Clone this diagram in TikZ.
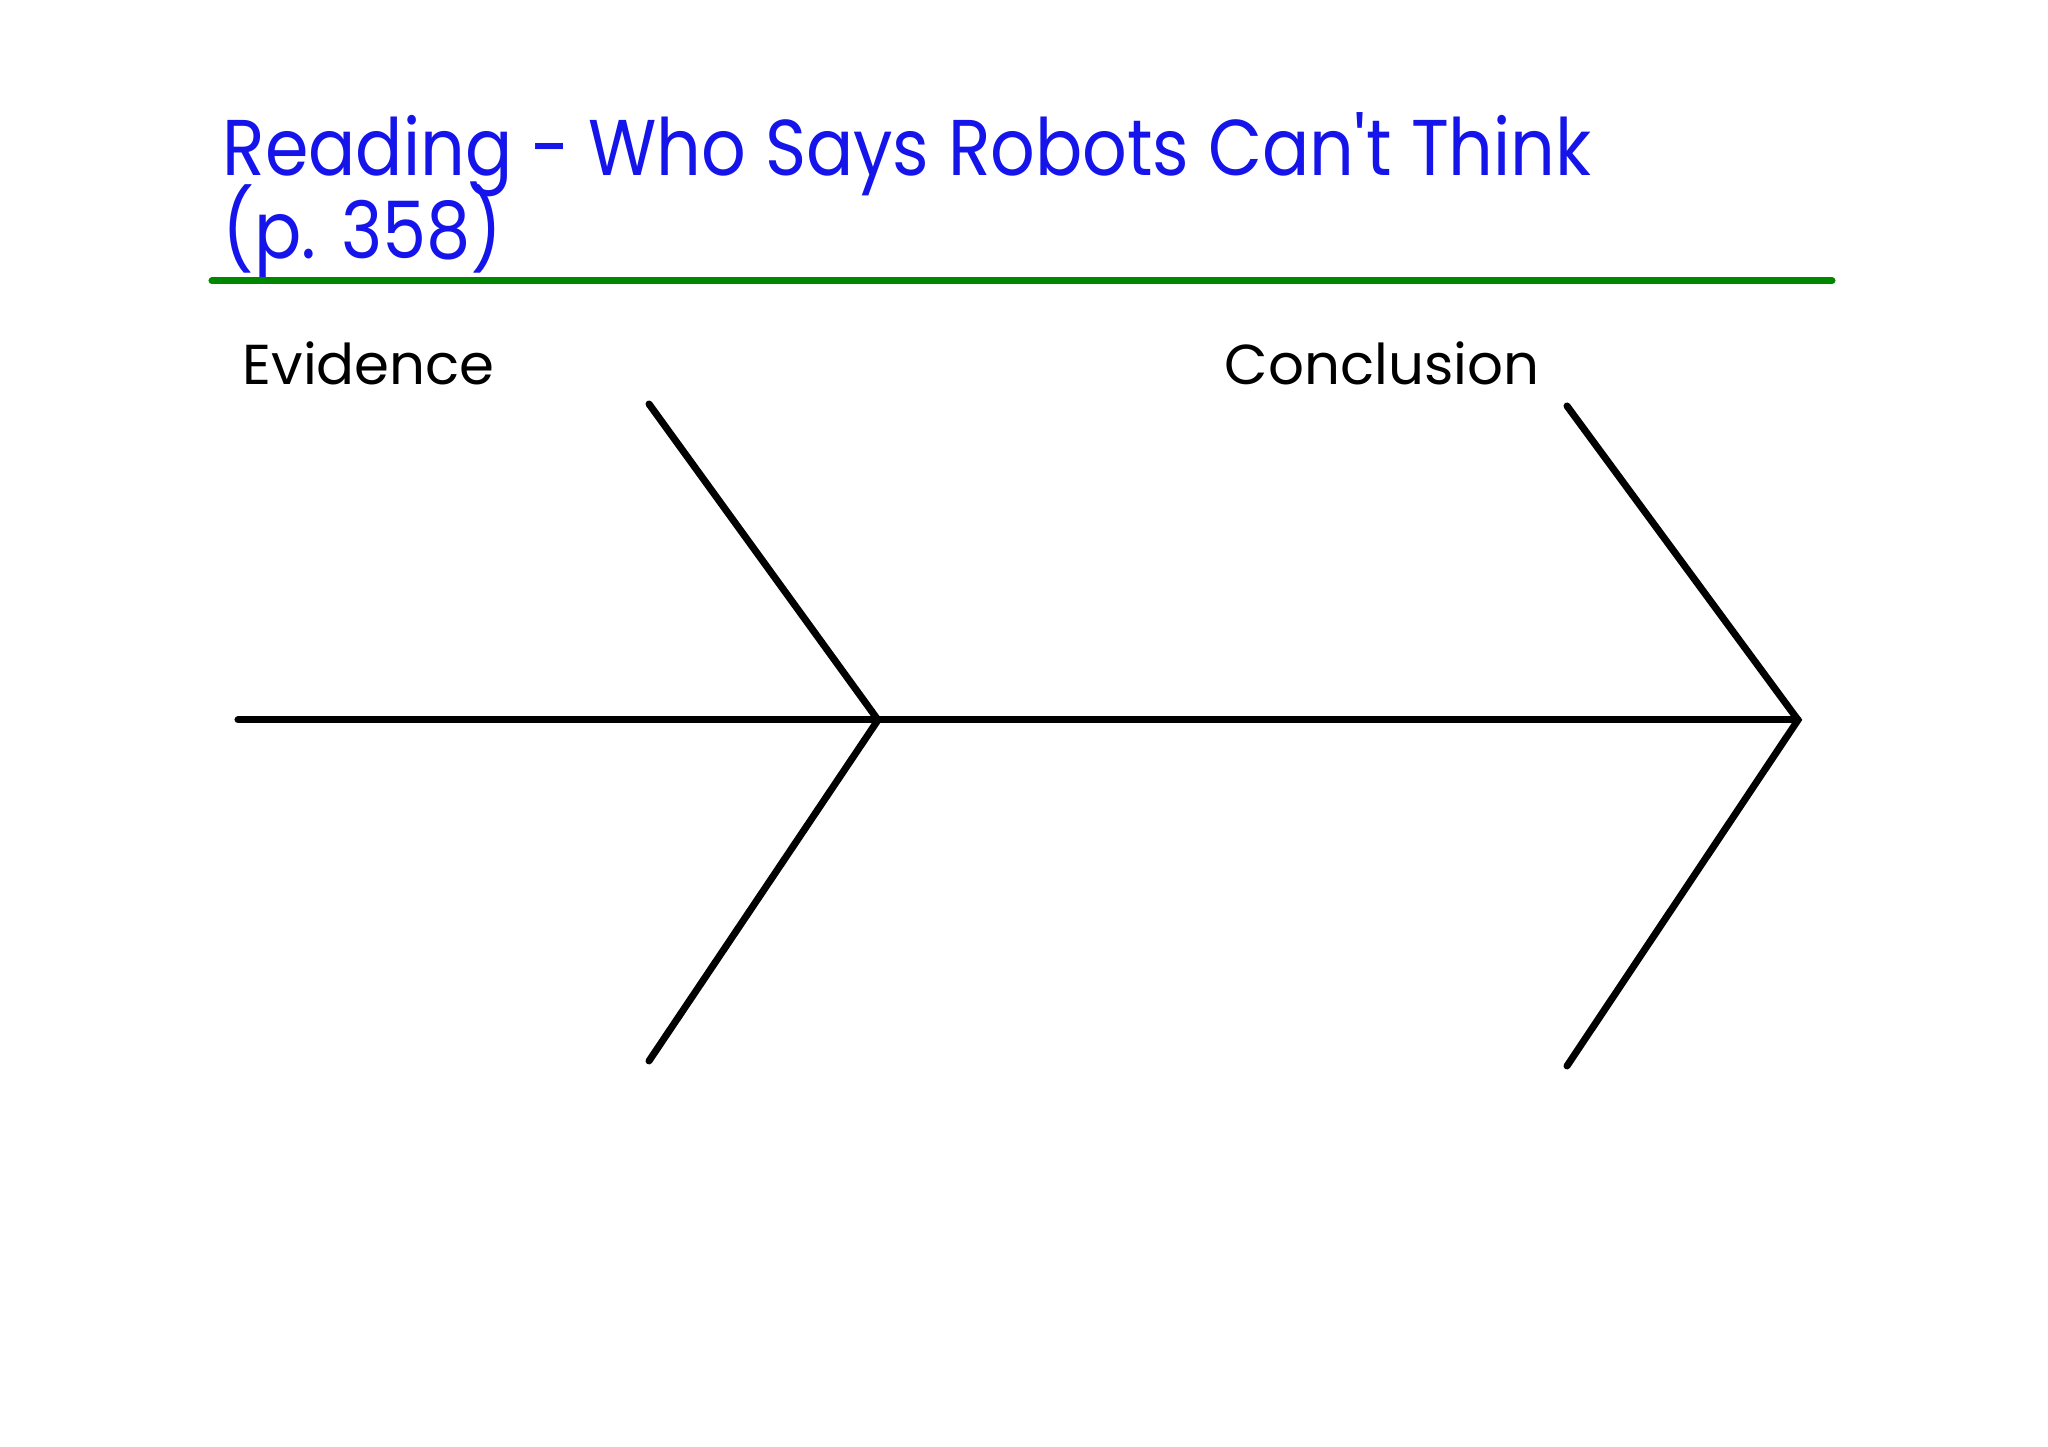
\documentclass[tikz,border=0pt]{standalone}
\usepackage{fontspec}
\setmainfont{Poppins}
\newfontfamily\titlefont[FakeStretch=0.885]{Poppins}
\usepackage{xcolor}
\usepackage{tikz}

\definecolor{titleblue}{RGB}{20,20,235}
\definecolor{rulegreen}{RGB}{0,135,0}

\begin{document}
\begin{tikzpicture}[
    heading/.style={anchor=base west, inner sep=0pt, text=titleblue, font=\titlefont\fontsize{22.5}{27}\selectfont},
    label/.style={anchor=base west, inner sep=0pt, font=\fontsize{16}{19}\selectfont},
    bone/.style={line width=2pt, line cap=round}
]
\useasboundingbox (0,0) rectangle (20.48,14.47);

\node[heading] (title) at (2.22,12.71) {Reading - Who Says Robots Can\textquotesingle t Think};
\node[heading] (page) at (2.22,11.88) {(p. 358)};
\draw[line width=2pt, rulegreen, line cap=round] (2.12,11.66) -- (18.32,11.66);

\node[label] (evidence) at (2.42,10.62) {Evidence};
\node[label] (conclusion) at (12.24,10.62) {Conclusion};

\coordinate (tail) at (2.38,7.27);
\coordinate (mid) at (8.78,7.27);
\coordinate (head) at (17.98,7.27);
\coordinate (ltop) at (6.49,10.43);
\coordinate (lbot) at (6.49,3.86);
\coordinate (rtop) at (15.67,10.41);
\coordinate (rbot) at (15.67,3.81);

\draw[bone] (tail) -- (mid) -- (head);
\draw[bone] (ltop) -- (mid) -- (lbot);
\draw[bone] (rtop) -- (head) -- (rbot);

\end{tikzpicture}
\end{document}
